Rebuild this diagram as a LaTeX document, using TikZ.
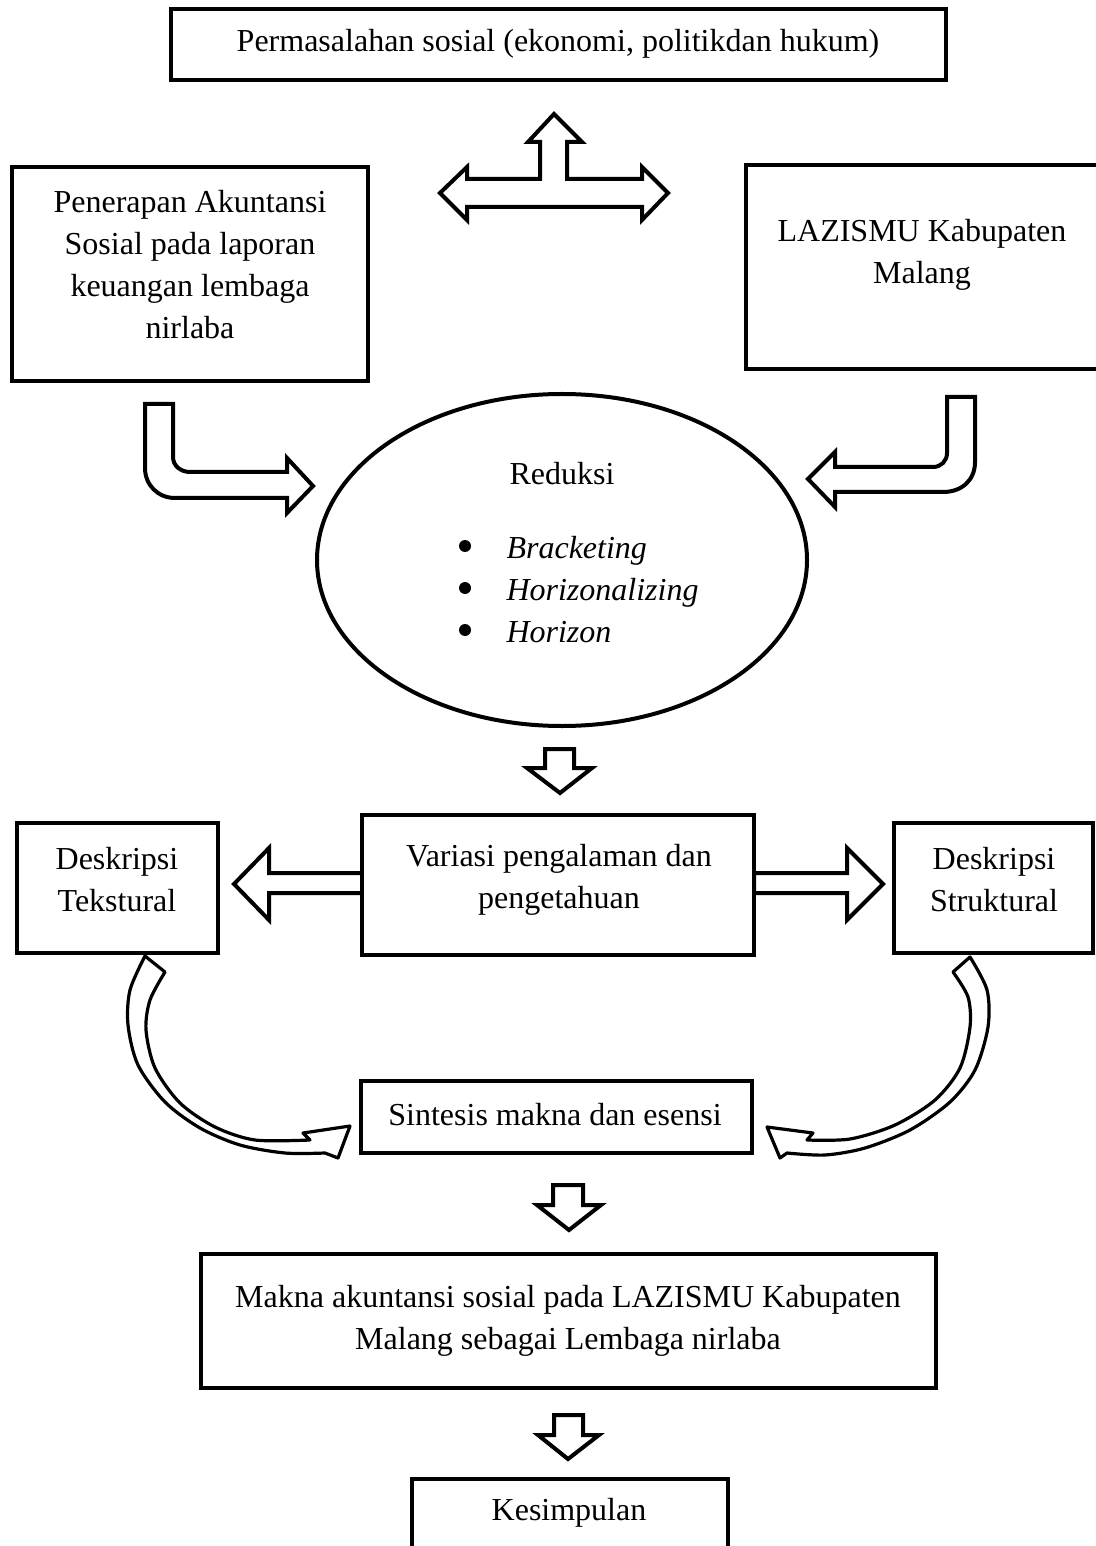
\documentclass[tikz,border=0pt]{standalone}
\usepackage{fontspec}
\setmainfont{Liberation Serif}
\usetikzlibrary{shapes.geometric, fit}

\tikzset{
  box/.style={draw, line width=1.5pt, inner sep=0pt},
  txt/.style={align=center, inner sep=0pt, font=\fontsize{12}{15.75}\selectfont},
  blockarrow/.style={draw, fill=white, line width=1.5pt, line join=miter},
  curvearrow/.style={draw, fill=white, line width=1.2pt, line join=round},
}

\begin{document}
\begin{tikzpicture}[x=0.375pt,y=0.375pt,yscale=-1]
\useasboundingbox (0,0) rectangle (1095,1546);

% Boxes
\node[box, fit={(171,9) (946,80)}] (masalah) {};
\node[box, fit={(12,167) (368,381)}] (penerapan) {};
\node[box, fit={(746,165) (1105,369)}] (lazismu) {};
\node[box, ellipse, minimum width=183.75pt, minimum height=124.5pt] (reduksi) at (562,560) {};

% Three-way arrow
\draw[blockarrow] (554,114) -- (582,142) -- (567,142) -- (567,179) -- (642,179) -- (642,167) -- (668,193) -- (642,220) -- (642,207) -- (467,207) -- (467,220) -- (440,193) -- (467,167) -- (467,179) -- (540,179) -- (540,142) -- (528,142) -- cycle;

% Bent arrows into the ellipse
\draw[blockarrow] (145,404) -- (173,404) -- (173,457) .. controls (173,466) and (181,472) .. (190,472) -- (287,472) -- (287,458) -- (313,486) -- (287,513) -- (287,498) -- (175,498) .. controls (158,498) and (145,485) .. (145,468) -- cycle;
\draw[blockarrow] (947,397) -- (975,397) -- (975,462) .. controls (975,480) and (962,492) .. (943,492) -- (835,492) -- (835,507) -- (808,479) -- (835,452) -- (835,467) -- (933,467) .. controls (941,467) and (947,461) .. (947,453) -- cycle;

% Down arrow
\draw[blockarrow] (545,749) -- (574,749) -- (574,768) -- (592,768) -- (560,793) -- (527,768) -- (545,768) -- cycle;

% Side arrows
\draw[blockarrow] (362,873) -- (269,873) -- (269,848) -- (234,884) -- (269,920) -- (269,893) -- (362,893) -- cycle;
\draw[blockarrow] (754,873) -- (847,873) -- (847,848) -- (883,884) -- (847,920) -- (847,893) -- (754,893) -- cycle;

\node[box, fill=white, fit={(17,823) (218,953)}] (tekstural) {};
\node[box, fill=white, fit={(362,815) (754,955)}] (variasi) {};
\node[box, fill=white, fit={(894,823) (1093,953)}] (struktural) {};

% Curved arrows
\draw[curvearrow] plot[smooth] coordinates {(145,956) (130,990) (128,1025) (138,1065) (165,1102) (200,1128) (240,1145) (285,1153) (325,1153)} -- (338,1158) -- (350,1126) -- (303,1133) -- plot[smooth] coordinates {(310,1140) (255,1140) (215,1127) (180,1103) (155,1068) (146,1030) (150,1000) (165,972)} -- cycle;
\draw[curvearrow] plot[smooth] coordinates {(970,957) (987,990) (988,1027) (975,1070) (950,1102) (910,1130) (865,1148) (825,1155) (787,1153)} -- (780,1158) -- (767,1127) -- (813,1133) -- plot[smooth] coordinates {(807,1140) (850,1139) (895,1125) (935,1100) (960,1068) (970,1027) (968,997) (953,972)} -- cycle;

\node[box, fit={(361,1081) (752,1153)}] (sintesis) {};
\draw[blockarrow] (553,1185) -- (583,1185) -- (583,1205) -- (601,1205) -- (569,1230) -- (537,1205) -- (553,1205) -- cycle;
\node[box, fit={(201,1254) (936,1388)}] (makna) {};
\draw[blockarrow] (554,1415) -- (583,1415) -- (583,1435) -- (599,1435) -- (568,1459) -- (538,1435) -- (554,1435) -- cycle;
\node[box, fit={(412,1479) (728,1560)}] (kesimpulan) {};

% Texts
\node[txt] (masalahtxt) at (558,44) {Permasalahan sosial (ekonomi, politikdan hukum)};
\node[txt] (penerapantxt) at (190,265) {Penerapan Akuntansi\\Sosial pada laporan\\keuangan lembaga\\nirlaba};
\node[txt] (lazismutxt) at (922,255) {LAZISMU Kabupaten\\Malang};
\node[txt] (reduksitxt) at (562,474) {Reduksi};
\fill (465,546) circle (6) (465,588) circle (6) (465,630) circle (6);
\node[txt, align=left, anchor=west] (langkah) at (506,590) {\textit{Bracketing}\\\textit{Horizonalizing}\\\textit{Horizon}};
\node[txt] (variasitxt) at (559,880) {Variasi pengalaman dan\\pengetahuan};
\node[txt] (teksturaltxt) at (117,880) {Deskripsi\\Tekstural};
\node[txt] (strukturaltxt) at (994,880) {Deskripsi\\Struktural};
\node[txt] (sintesistxt) at (555,1115) {Sintesis makna dan esensi};
\node[txt] (maknatxt) at (568,1321) {Makna akuntansi sosial pada LAZISMU Kabupaten\\Malang sebagai Lembaga nirlaba};
\node[txt] (kesimpulantxt) at (569,1513) {Kesimpulan};

\end{tikzpicture}
\end{document}
